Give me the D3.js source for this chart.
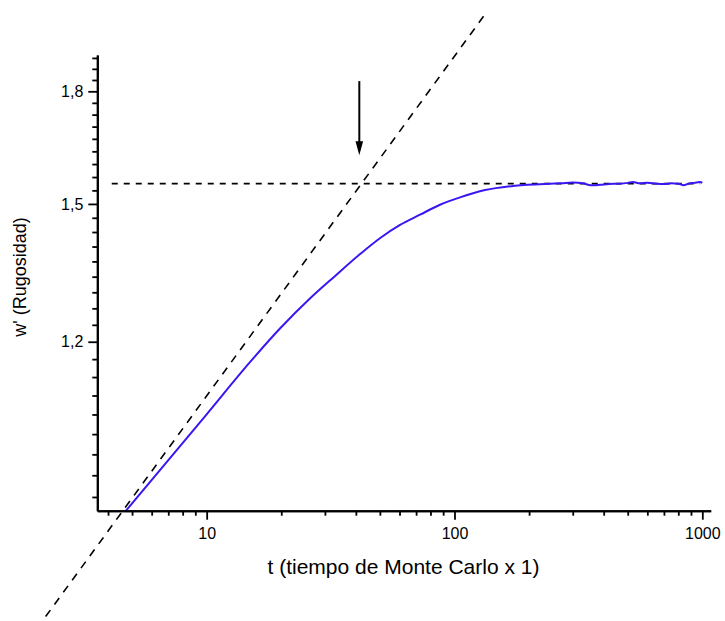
<!DOCTYPE html>
<html>
<head>
<meta charset="utf-8">
<script src="https://cdn.jsdelivr.net/npm/d3@7/dist/d3.min.js"></script>
<style>
  html, body { margin: 0; padding: 0; background: #fff; }
  svg { display: block; font-family: "Liberation Sans", Arial, sans-serif; }
</style>
</head>
<body>
<svg id="chart" width="725" height="621"></svg>
<script>
// Roughness w' versus Monte Carlo time (log-log)
const curveT = [4.68, 10, 14.95, 19.76, 26.1, 33, 41.6, 50, 60.3, 72.6, 87.4, 105.3, 132.8, 175.5, 243,
                270, 300, 330, 355, 385, 420, 460, 500, 525, 560, 600, 650, 700, 750, 800, 840, 880, 930, 980, 1000];
const curveW = [0.911, 1.067, 1.161, 1.226, 1.287, 1.335, 1.383, 1.419, 1.450, 1.474, 1.498, 1.516, 1.534, 1.545, 1.550,
                1.551, 1.553, 1.551, 1.546, 1.547, 1.549, 1.550, 1.552, 1.554, 1.551, 1.552, 1.550, 1.549, 1.551,
                1.550, 1.546, 1.550, 1.552, 1.554, 1.552];

// Power-law growth guide (w ~ t^beta) and saturation level
const growthT = [2.24, 132.8];
const growthW = [0.769, 2.039];
const satT = [4.14, 980];
const satW = [1.55, 1.55];

// Crossover time marker
const arrowT = 41.3;
const arrowW = [1.83, 1.623];

// Axis ticks
const xMajorTicks = [10, 100, 1000];
const xMajorLabels = ["10", "100", "1000"];
const xMinorTicks = [4, 5, 6, 7, 8, 9, 20, 30, 40, 50, 60, 70, 80, 90, 200, 300, 400, 500, 600, 700, 800, 900];
const yMajorTicks = [1.2, 1.5, 1.8];
const yMajorLabels = ["1,2", "1,5", "1,8"];
const yMinorTicks = [0.9333, 0.9667, 1.0, 1.0333, 1.0667, 1.1, 1.1333, 1.1667,
                     1.2333, 1.2667, 1.3, 1.3333, 1.3667, 1.4, 1.4333, 1.4667,
                     1.5333, 1.5667, 1.6, 1.6333, 1.6667, 1.7, 1.7333, 1.7667,
                     1.8333, 1.8667, 1.9];

const xTitle = "t (tiempo de Monte Carlo x 1)";
const yTitle = "w' (Rugosidad)";

const svg = d3.select("#chart");
const plotLeft = 97.3, plotRight = 710.7, plotTop = 55, plotBottom = 510.7;

const x = d3.scaleLog().domain([3.62, 1081]).range([plotLeft, plotRight]);
const y = d3.scaleLog().domain([0.9128, 1.909]).range([plotBottom, plotTop]);

svg.append("defs").append("clipPath").attr("id", "plotArea")
  .append("rect").attr("x", plotLeft).attr("y", plotTop)
  .attr("width", plotRight - plotLeft).attr("height", plotBottom - plotTop);

// Guide lines
const line = d3.line().x(d => x(d[0])).y(d => y(d[1]));
svg.append("path")
  .attr("d", line(d3.zip(growthT, growthW)))
  .attr("fill", "none").attr("stroke", "#000").attr("stroke-width", 1.6)
  .attr("stroke-dasharray", "8,7");
svg.append("path")
  .attr("d", line(d3.zip(satT, satW)))
  .attr("fill", "none").attr("stroke", "#000").attr("stroke-width", 1.6)
  .attr("stroke-dasharray", "6,6");

// Data curve
const smoothLine = d3.line().x(d => x(d[0])).y(d => y(d[1])).curve(d3.curveMonotoneX);
svg.append("path")
  .attr("clip-path", "url(#plotArea)")
  .attr("d", smoothLine(d3.zip(curveT, curveW)))
  .attr("fill", "none").attr("stroke", "#3a17f2").attr("stroke-width", 2)
  .attr("stroke-linejoin", "round");

// Arrow
const ax = x(arrowT), ay0 = y(arrowW[0]), ay1 = y(arrowW[1]);
svg.append("line").attr("x1", ax).attr("x2", ax).attr("y1", ay0).attr("y2", ay1 - 10)
  .attr("stroke", "#000").attr("stroke-width", 2);
svg.append("path")
  .attr("d", `M${ax},${ay1} L${ax - 3.8},${ay1 - 14} L${ax + 3.8},${ay1 - 14} Z`)
  .attr("fill", "#000");

// Axes
function styleAxis(g) {
  g.select(".domain").attr("stroke", "#000").attr("stroke-width", 2);
  g.selectAll(".tick line").attr("stroke", "#000").attr("stroke-width", 1.8);
  g.selectAll("text").attr("fill", "#000").style("font-size", "16px")
    .style("font-family", "'Liberation Sans', Arial, sans-serif");
}

const xAxisMajor = d3.axisBottom(x).tickValues(xMajorTicks)
  .tickFormat((d, i) => xMajorLabels[i]).tickSize(9).tickSizeOuter(0).tickPadding(8);
const xAxisMinor = d3.axisBottom(x).tickValues(xMinorTicks)
  .tickFormat("").tickSize(5).tickSizeOuter(0);
svg.append("g").attr("transform", `translate(0,${plotBottom})`).call(xAxisMinor).call(styleAxis);
svg.append("g").attr("transform", `translate(0,${plotBottom})`).call(xAxisMajor).call(styleAxis);

const yAxisMajor = d3.axisLeft(y).tickValues(yMajorTicks)
  .tickFormat((d, i) => yMajorLabels[i]).tickSize(9).tickSizeOuter(0).tickPadding(5);
const yAxisMinor = d3.axisLeft(y).tickValues(yMinorTicks)
  .tickFormat("").tickSize(5).tickSizeOuter(0);
svg.append("g").attr("transform", `translate(${plotLeft},0)`).call(yAxisMinor).call(styleAxis);
svg.append("g").attr("transform", `translate(${plotLeft},0)`).call(yAxisMajor).call(styleAxis);

// Titles
svg.append("text").attr("x", 403.5).attr("y", 574).attr("text-anchor", "middle")
  .style("font-size", "21px").attr("fill", "#000").text(xTitle);
svg.append("text").attr("transform", "translate(25.5,277) rotate(-90)").attr("text-anchor", "middle")
  .style("font-size", "18px").attr("fill", "#000").text(yTitle);
</script>
</body>
</html>
